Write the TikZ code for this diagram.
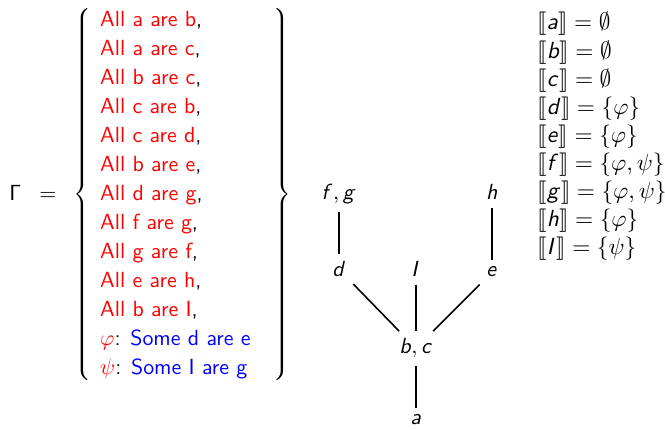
\documentclass[11pt,tikz,border=0pt]{standalone}
\usepackage{stmaryrd}
\DeclareMathAlphabet{\mathsfsl}{OT1}{cmss}{m}{sl}

\begin{document}
\begin{tikzpicture}[
  cls/.style={inner sep=3.6pt, anchor=base},
  link/.style={line width=0.8pt, black},
  stmt/.style={inner sep=0pt, font=\sffamily}
]
\useasboundingbox (0,0) rectangle (11.686,7.556);
% premises
\node[stmt,anchor=west] (premises) at (0.158,4.130)
  {$\mathsf{\Gamma}\hspace{6pt}=\hspace{5.5pt}\left\{\renewcommand{\arraystretch}{1.066}%
   \begin{tabular}{@{\hspace{4.5pt}}l@{\hspace{11.5pt}}}
   \textcolor{red}{All a are b},\\
   \textcolor{red}{All a are c},\\
   \textcolor{red}{All b are c},\\
   \textcolor{red}{All c are b},\\
   \textcolor{red}{All c are d},\\
   \textcolor{red}{All b are e},\\
   \textcolor{red}{All d are g},\\
   \textcolor{red}{All f are g},\\
   \textcolor{red}{All g are f},\\
   \textcolor{red}{All e are h},\\
   \textcolor{red}{All b are I},\\
   \textcolor{red}{$\varphi$}: \textcolor{blue}{Some d are e}\\
   \textcolor{red}{$\psi$}: \textcolor{blue}{Some I are g}
   \end{tabular}\right\}$};
% order of the classes
\node[cls] (fg) at (5.957,4.042) {$\mathsfsl{f},\mathsfsl{g}$};
\node[cls] (h)  at (8.646,4.042) {$\mathsfsl{h}$};
\node[cls] (d)  at (5.957,2.689) {$\mathsfsl{d}$};
\node[cls] (I)  at (7.310,2.689) {$\mathsfsl{I}$};
\node[cls] (e)  at (8.646,2.689) {$\mathsfsl{e}$};
\node[cls] (bc) at (7.310,1.336) {$\mathsfsl{b},\mathsfsl{c}$};
\node[cls] (a)  at (7.310,0.088) {$\mathsfsl{a}$};
\foreach \lo/\hi in {fg/d, h/e, d/bc, I/bc, e/bc, bc/a}
  \draw[link] (\lo) -- (\hi);
% interpretation
\node[stmt,anchor=base west,scale=1.065,transform shape] (interp) at (9.437,7.029)
  {\renewcommand{\arraystretch}{0.967}%
   \begin{tabular}[t]{@{}l@{}}
   $\llbracket\mathsfsl{a}\rrbracket = \emptyset$\\
   $\llbracket\mathsfsl{b}\rrbracket = \emptyset$\\
   $\llbracket\mathsfsl{c}\rrbracket = \emptyset$\\
   $\llbracket\mathsfsl{d}\rrbracket = \{\varphi\}$\\
   $\llbracket\mathsfsl{e}\rrbracket = \{\varphi\}$\\
   $\llbracket\mathsfsl{f}\rrbracket = \{\varphi,\psi\}$\\
   $\llbracket\mathsfsl{g}\rrbracket = \{\varphi,\psi\}$\\
   $\llbracket\mathsfsl{h}\rrbracket = \{\varphi\}$\\
   $\llbracket\mathsfsl{I}\rrbracket = \{\psi\}$
   \end{tabular}};
\end{tikzpicture}
\end{document}
